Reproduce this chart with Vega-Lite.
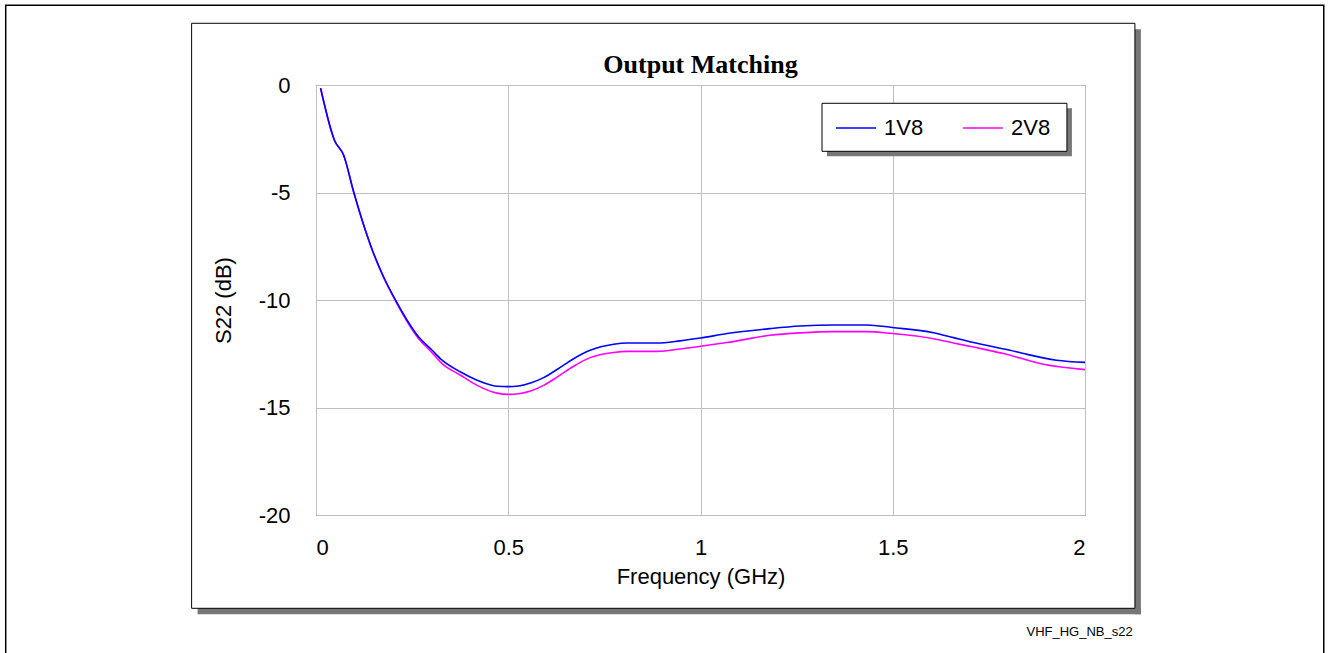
{
  "$schema": "https://vega.github.io/schema/vega-lite/v6.json",
  "autosize": "none",
  "padding": {"left": 316, "top": 85, "right": 245, "bottom": 138},
  "width": 769,
  "height": 430,
  "background": "white",
  "config": {
    "view": {"stroke": "black", "strokeWidth": 1},
    "axis": {
      "labelFont": "Liberation Sans",
      "labelFontSize": 22,
      "labelColor": "black",
      "titleFont": "Liberation Sans",
      "titleFontSize": 22,
      "titleFontWeight": "normal",
      "titleColor": "black",
      "grid": true,
      "gridColor": "#c0c0c0",
      "gridWidth": 1,
      "domain": false,
      "ticks": false
    }
  },
  "datasets": {
    "s22": [
      {"freq": 0.012, "series": "2V8", "s22": -0.15},
      {"freq": 0.048, "series": "2V8", "s22": -2.57},
      {"freq": 0.072, "series": "2V8", "s22": -3.27},
      {"freq": 0.098, "series": "2V8", "s22": -4.98},
      {"freq": 0.12, "series": "2V8", "s22": -6.29},
      {"freq": 0.15, "series": "2V8", "s22": -7.86},
      {"freq": 0.176, "series": "2V8", "s22": -8.96},
      {"freq": 0.207, "series": "2V8", "s22": -10.05},
      {"freq": 0.237, "series": "2V8", "s22": -11.0},
      {"freq": 0.267, "series": "2V8", "s22": -11.8},
      {"freq": 0.3, "series": "2V8", "s22": -12.42},
      {"freq": 0.328, "series": "2V8", "s22": -12.96},
      {"freq": 0.376, "series": "2V8", "s22": -13.5},
      {"freq": 0.419, "series": "2V8", "s22": -13.97},
      {"freq": 0.471, "series": "2V8", "s22": -14.33},
      {"freq": 0.5, "series": "2V8", "s22": -14.39},
      {"freq": 0.527, "series": "2V8", "s22": -14.36},
      {"freq": 0.56, "series": "2V8", "s22": -14.22},
      {"freq": 0.592, "series": "2V8", "s22": -13.97},
      {"freq": 0.63, "series": "2V8", "s22": -13.55},
      {"freq": 0.67, "series": "2V8", "s22": -13.08},
      {"freq": 0.713, "series": "2V8", "s22": -12.68},
      {"freq": 0.774, "series": "2V8", "s22": -12.44},
      {"freq": 0.809, "series": "2V8", "s22": -12.39},
      {"freq": 0.887, "series": "2V8", "s22": -12.39},
      {"freq": 0.947, "series": "2V8", "s22": -12.28},
      {"freq": 1.0, "series": "2V8", "s22": -12.15},
      {"freq": 1.069, "series": "2V8", "s22": -11.98},
      {"freq": 1.181, "series": "2V8", "s22": -11.64},
      {"freq": 1.259, "series": "2V8", "s22": -11.53},
      {"freq": 1.346, "series": "2V8", "s22": -11.47},
      {"freq": 1.433, "series": "2V8", "s22": -11.47},
      {"freq": 1.499, "series": "2V8", "s22": -11.56},
      {"freq": 1.606, "series": "2V8", "s22": -11.8},
      {"freq": 1.658, "series": "2V8", "s22": -12.0},
      {"freq": 1.71, "series": "2V8", "s22": -12.19},
      {"freq": 1.788, "series": "2V8", "s22": -12.49},
      {"freq": 1.892, "series": "2V8", "s22": -12.99},
      {"freq": 2.0, "series": "2V8", "s22": -13.24},
      {"freq": 0.012, "series": "1V8", "s22": -0.15},
      {"freq": 0.048, "series": "1V8", "s22": -2.57},
      {"freq": 0.072, "series": "1V8", "s22": -3.27},
      {"freq": 0.098, "series": "1V8", "s22": -4.98},
      {"freq": 0.12, "series": "1V8", "s22": -6.29},
      {"freq": 0.15, "series": "1V8", "s22": -7.84},
      {"freq": 0.176, "series": "1V8", "s22": -8.93},
      {"freq": 0.207, "series": "1V8", "s22": -10.01},
      {"freq": 0.237, "series": "1V8", "s22": -10.94},
      {"freq": 0.267, "series": "1V8", "s22": -11.72},
      {"freq": 0.3, "series": "1V8", "s22": -12.3},
      {"freq": 0.328, "series": "1V8", "s22": -12.8},
      {"freq": 0.376, "series": "1V8", "s22": -13.35},
      {"freq": 0.419, "series": "1V8", "s22": -13.73},
      {"freq": 0.471, "series": "1V8", "s22": -14.01},
      {"freq": 0.5, "series": "1V8", "s22": -14.03},
      {"freq": 0.527, "series": "1V8", "s22": -14.0},
      {"freq": 0.56, "series": "1V8", "s22": -13.85},
      {"freq": 0.592, "series": "1V8", "s22": -13.61},
      {"freq": 0.63, "series": "1V8", "s22": -13.2},
      {"freq": 0.67, "series": "1V8", "s22": -12.73},
      {"freq": 0.713, "series": "1V8", "s22": -12.34},
      {"freq": 0.774, "series": "1V8", "s22": -12.06},
      {"freq": 0.809, "series": "1V8", "s22": -12.0},
      {"freq": 0.887, "series": "1V8", "s22": -12.0},
      {"freq": 0.947, "series": "1V8", "s22": -11.9},
      {"freq": 1.0, "series": "1V8", "s22": -11.77},
      {"freq": 1.069, "series": "1V8", "s22": -11.56},
      {"freq": 1.181, "series": "1V8", "s22": -11.33},
      {"freq": 1.259, "series": "1V8", "s22": -11.21},
      {"freq": 1.346, "series": "1V8", "s22": -11.16},
      {"freq": 1.433, "series": "1V8", "s22": -11.16},
      {"freq": 1.499, "series": "1V8", "s22": -11.28},
      {"freq": 1.606, "series": "1V8", "s22": -11.52},
      {"freq": 1.658, "series": "1V8", "s22": -11.75},
      {"freq": 1.71, "series": "1V8", "s22": -11.98},
      {"freq": 1.805, "series": "1V8", "s22": -12.34},
      {"freq": 1.84, "series": "1V8", "s22": -12.49},
      {"freq": 1.926, "series": "1V8", "s22": -12.8},
      {"freq": 2.0, "series": "1V8", "s22": -12.9}
    ],
    "one": [{}]
  },
  "layer": [
    {
      "description": "outer page frame",
      "data": {"name": "one"},
      "mark": {"type": "rect", "fill": null, "stroke": "black", "strokeWidth": 1.5},
      "encoding": {
        "x": {"datum": -0.807, "type": "quantitative", "scale": {"domain": [0, 2]}},
        "x2": {"datum": 2.621},
        "y": {"datum": 3.707, "type": "quantitative", "scale": {"domain": [-20, 0]}},
        "y2": {"datum": -28}
      }
    },
    {
      "description": "panel shadow, right strip",
      "data": {"name": "one"},
      "mark": {"type": "rect", "fill": "#777777", "stroke": null},
      "encoding": {
        "x": {"datum": 2.1298, "type": "quantitative"},
        "x2": {"datum": 2.1454},
        "y": {"datum": 2.59, "type": "quantitative"},
        "y2": {"datum": -24.62}
      }
    },
    {
      "description": "panel shadow, bottom strip",
      "data": {"name": "one"},
      "mark": {"type": "rect", "fill": "#777777", "stroke": null},
      "encoding": {
        "x": {"datum": -0.3079, "type": "quantitative"},
        "x2": {"datum": 2.1454},
        "y": {"datum": -24.34, "type": "quantitative"},
        "y2": {"datum": -24.62}
      }
    },
    {
      "description": "panel frame",
      "data": {"name": "one"},
      "mark": {"type": "rect", "fill": null, "stroke": "black", "strokeWidth": 1},
      "encoding": {
        "x": {"datum": -0.3235, "type": "quantitative"},
        "x2": {"datum": 2.1298},
        "y": {"datum": 2.87, "type": "quantitative"},
        "y2": {"datum": -24.34}
      }
    },
    {
      "description": "chart heading",
      "data": {"name": "one"},
      "mark": {"type": "text", "text": "Output Matching", "font": "Liberation Serif", "fontSize": 26, "fontWeight": "bold", "align": "center", "baseline": "middle", "color": "black"},
      "encoding": {
        "x": {"datum": 1, "type": "quantitative"},
        "y": {"datum": 0.92, "type": "quantitative"}
      }
    },
    {
      "description": "legend shadow",
      "data": {"name": "one"},
      "mark": {"type": "rect", "fill": "#777777", "stroke": null},
      "encoding": {
        "x": {"datum": 1.329, "type": "quantitative"},
        "x2": {"datum": 1.966},
        "y": {"datum": -1.084, "type": "quantitative"},
        "y2": {"datum": -3.316}
      }
    },
    {
      "description": "legend box",
      "data": {"name": "one"},
      "mark": {"type": "rect", "fill": "white", "stroke": "black", "strokeWidth": 1},
      "encoding": {
        "x": {"datum": 1.316, "type": "quantitative"},
        "x2": {"datum": 1.953},
        "y": {"datum": -0.851, "type": "quantitative"},
        "y2": {"datum": -3.084}
      }
    },
    {
      "description": "figure tag",
      "data": {"name": "one"},
      "mark": {"type": "text", "text": "VHF_HG_NB_s22", "font": "Liberation Sans", "fontSize": 13, "align": "right", "baseline": "middle", "color": "black"},
      "encoding": {
        "x": {"datum": 2.124, "type": "quantitative"},
        "y": {"datum": -25.45, "type": "quantitative"}
      }
    },
    {
      "data": {"name": "s22"},
      "mark": {"type": "line", "strokeWidth": 1.6, "interpolate": "monotone"},
      "encoding": {
        "x": {
          "field": "freq",
          "type": "quantitative",
          "scale": {"domain": [0, 2], "nice": false, "zero": false},
          "axis": {"values": [0, 0.5, 1, 1.5, 2], "format": "~g", "labelPadding": 22, "title": "Frequency (GHz)", "titlePadding": 8}
        },
        "y": {
          "field": "s22",
          "type": "quantitative",
          "scale": {"domain": [-20, 0], "nice": false},
          "axis": {"values": [0, -5, -10, -15, -20], "labelExpr": "toString(datum.value)", "labelPadding": 26, "title": "S22 (dB)", "titlePadding": 23}
        },
        "color": {
          "field": "series",
          "type": "nominal",
          "scale": {"domain": ["1V8", "2V8"], "range": ["#0000ff", "#ff00ff"]},
          "legend": {
            "title": null,
            "orient": "none",
            "legendX": 519,
            "legendY": 22,
            "direction": "horizontal",
            "columns": 2,
            "columnPadding": 36,
            "padding": 0,
            "symbolType": "stroke",
            "symbolSize": 1600,
            "symbolStrokeWidth": 1.5,
            "labelFont": "Liberation Sans",
            "labelFontSize": 22,
            "labelColor": "black",
            "labelOffset": 7
          }
        }
      }
    }
  ]
}
